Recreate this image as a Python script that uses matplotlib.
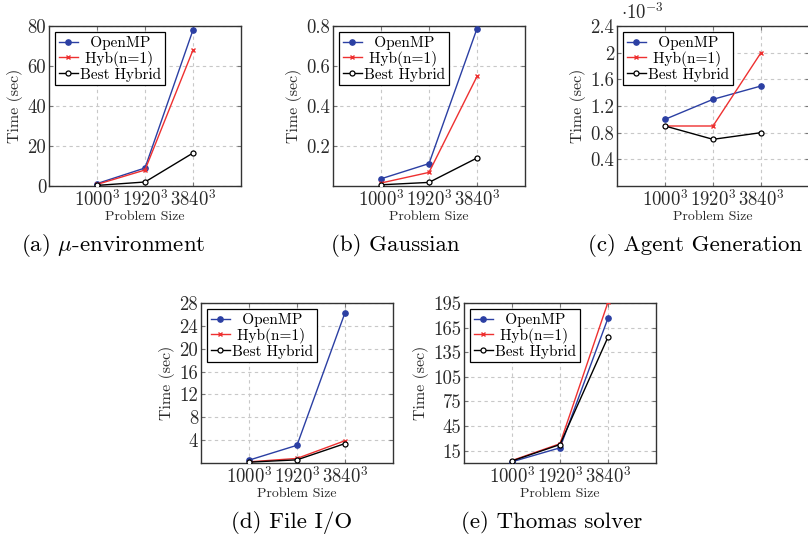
import matplotlib
matplotlib.use("Agg")
import matplotlib.pyplot as plt
from matplotlib.ticker import FuncFormatter

plt.rcParams['font.family'] = 'serif'
plt.rcParams['font.serif'] = ['cmr10']
plt.rcParams['mathtext.fontset'] = 'cm'
plt.rcParams['axes.formatter.use_mathtext'] = True

# --- DATA ---
sizes = ['$1000^3$', '$1920^3$', '$3840^3$']
series_names = ['OpenMP', 'Hyb(n=1)', 'Best Hybrid']

env_openmp = [1.2, 9.0, 78.0]
env_hyb = [0.8, 8.0, 68.0]
env_best = [0.3, 2.0, 16.5]

gauss_openmp = [0.036, 0.112, 0.787]
gauss_hyb = [0.015, 0.068, 0.548]
gauss_best = [0.006, 0.018, 0.14]

agent_openmp = [1.0e-3, 1.3e-3, 1.5e-3]
agent_hyb = [0.9e-3, 0.9e-3, 2.0e-3]
agent_best = [0.9e-3, 0.7e-3, 0.8e-3]

io_openmp = [0.5, 3.1, 26.3]
io_hyb = [0.2, 0.8, 3.9]
io_best = [0.15, 0.55, 3.4]

thomas_openmp = [1.5, 18.5, 176.5]
thomas_hyb = [3.0, 23.5, 196.0]
thomas_best = [2.5, 22.5, 153.5]

captions = [r'(a) $\mu$-environment', '(b) Gaussian', '(c) Agent Generation',
            '(d) File I/O', '(e) Thomas solver']

BLUE = '#2b3fa3'
RED = '#ee3030'
TXT = '#2a2a2a'

fig = plt.figure(figsize=(8.08, 5.43), dpi=100)

W, H = 192 / 808, 160 / 543

# leading spaces roughly centre the shorter legend entries, like pgfplots does
legend_pad = ['  ', ' ', '']


def panel(left_px, top_px, data, ylim, yticks, fmt=None):
    ax = fig.add_axes([left_px / 808, 1 - (top_px + 160) / 543, W, H])
    x = [1, 2, 3]
    lbl = [p + n for p, n in zip(legend_pad, series_names)]
    ax.plot(x, data[0], color=BLUE, lw=1.0, marker='o', ms=3.8,
            label=lbl[0], zorder=3)
    ax.plot(x, data[1], color=RED, lw=1.0, marker='x', ms=3, mew=1,
            label=lbl[1], zorder=3)
    ax.plot(x, data[2], color='black', lw=1.0, marker='o', ms=3.6,
            mfc='white', mew=0.9, label=lbl[2], zorder=4)
    ax.set_xlim(0, 4)
    ax.set_ylim(*ylim)
    ax.set_xticks(x)
    ax.set_xticklabels(sizes)
    ax.set_yticks(yticks)
    if fmt is None:
        fmt = FuncFormatter(lambda v, p: '%g' % v)
    ax.yaxis.set_major_formatter(fmt)
    ax.grid(True, color='#c8c8c8', ls=(0, (3, 3)), lw=0.8)
    ax.set_axisbelow(True)
    for s in ax.spines.values():
        s.set_color('#333333')
        s.set_linewidth(1.0)
    ax.tick_params(direction='in', length=3, color='#777777', top=True,
                   right=True, labelsize=13.5, pad=2, labelcolor=TXT)
    ax.set_xlabel('Problem Size', fontsize=10, labelpad=1, color=TXT)
    ax.set_ylabel('Time (sec)', fontsize=11.5, labelpad=3, color=TXT)
    leg = ax.legend(loc='upper left', fontsize=11, handlelength=1.25,
                    handletextpad=0.15, borderaxespad=0.4, borderpad=0.25,
                    labelspacing=0.05, fancybox=False, framealpha=1)
    leg.get_frame().set_edgecolor('black')
    leg.get_frame().set_linewidth(0.9)
    return ax


panel(49, 26, [env_openmp, env_hyb, env_best], (0, 80), [0, 20, 40, 60, 80])
panel(333, 26, [gauss_openmp, gauss_hyb, gauss_best], (0, 0.8),
      [0.2, 0.4, 0.6, 0.8])
ax_c = panel(617, 26, [agent_openmp, agent_hyb, agent_best], (0, 2.4e-3),
             [0.4e-3, 0.8e-3, 1.2e-3, 1.6e-3, 2.0e-3, 2.4e-3],
             FuncFormatter(lambda v, p: '%g' % round(v * 1e3, 3)))
ax_c.text(0.02, 1.02, r'$\cdot 10^{-3}$', transform=ax_c.transAxes,
          fontsize=13.5, ha='left', va='bottom', color=TXT)
panel(201, 303, [io_openmp, io_hyb, io_best], (0, 28),
      [4, 8, 12, 16, 20, 24, 28])
panel(464, 303, [thomas_openmp, thomas_hyb, thomas_best], (0, 195),
      [15, 45, 75, 105, 135, 165, 195])

cap_x = [113, 395, 695, 292, 552]
cap_y = [245, 245, 245, 522, 522]
for c, cx, cy in zip(captions, cap_x, cap_y):
    fig.text(cx / 808, 1 - cy / 543, c, fontsize=16.5, ha='center', va='center')

fig.savefig('out.png', dpi=100)
